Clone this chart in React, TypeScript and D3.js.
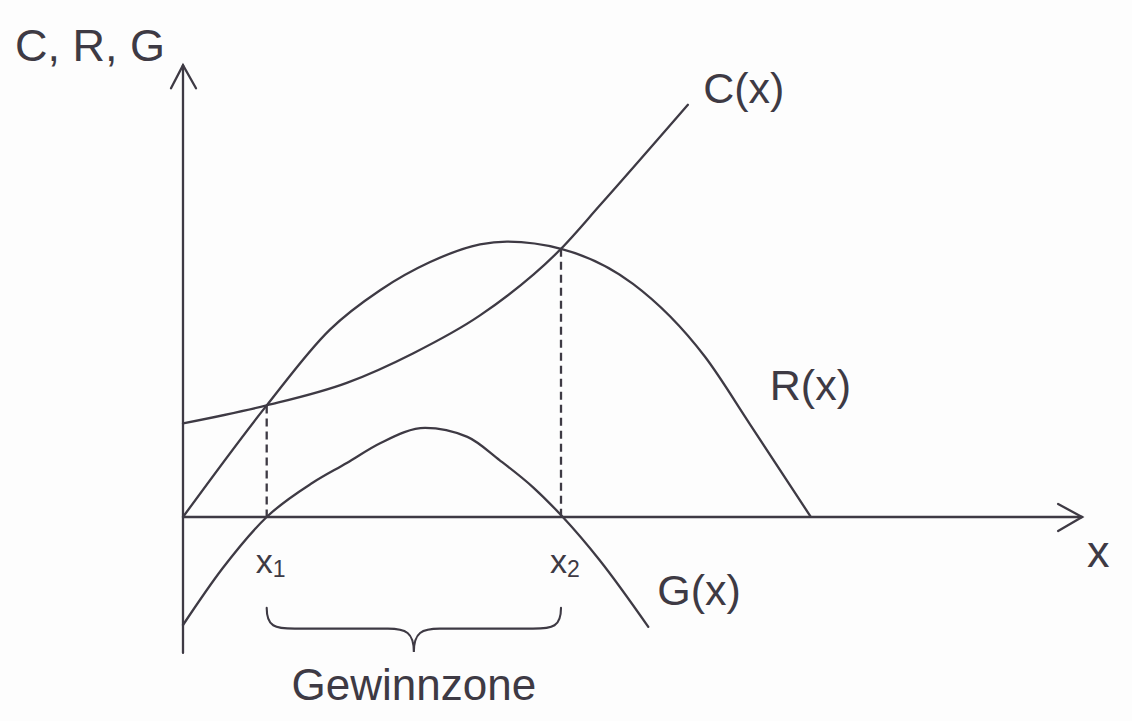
import * as d3 from "d3";
import { useEffect } from "react";

// values (units: 1 unit ≈ 9px on both axes)
const costX = [0, 9.3, 18.2, 25.6, 33.0, 42.0, 46.3, 56.1];
const costY = [10.4, 12.4, 14.9, 18.2, 22.4, 29.8, 34.6, 45.8];

const revenueX = [0, 9.3, 16.3, 21.9, 27.4, 33.0, 36.0, 42.0, 50.0, 58.0, 63.0, 69.7];
const revenueY = [0, 12.4, 20.8, 25.2, 28.3, 30.3, 30.6, 29.8, 25.9, 17.8, 10.3, 0.1];

const profitX = [0, 4.4, 9.3, 14.4, 18.2, 21.9, 26.9, 31.6, 35.2, 38.9, 42.2, 46.3, 51.7];
const profitY = [-12.0, -5.7, 0, 3.8, 6.0, 8.2, 9.9, 8.9, 6.3, 3.3, 0, -4.8, -12.2];

// break-even points
const breakEven = [
  { x: 9.3, y: 12.4, label: "1" },
  { x: 42.0, y: 29.8, label: "2" },
];

const curveLabels = [
  { text: "C(x)", x: 57.8, y: 46.0 },
  { text: "R(x)", x: 65.2, y: 13.0 },
  { text: "G(x)", x: 52.7, y: -9.8 },
];

const ink = "#3e3a44";
const font = "'Liberation Sans', Arial, Helvetica, sans-serif";

export default function App() {
  useEffect(() => {
    document.body.style.margin = "0";
    document.body.style.background = "#fdfdfd";
  }, []);

  const width = 1132;
  const height = 721;

  const x = d3.scaleLinear().domain([0, 100]).range([183, 1083]);
  const y = d3.scaleLinear().domain([0, 50]).range([517, 67]);

  const line = d3
    .line<[number, number]>()
    .x((d) => x(d[0]))
    .y((d) => y(d[1]))
    .curve(d3.curveMonotoneX);

  const pts = (xs: number[], ys: number[]) =>
    xs.map((v, i) => [v, ys[i]] as [number, number]);

  const x0 = x(0);
  const y0 = y(0);
  const yTop = y(50.2);
  const yBottom = y(-15.1);
  const xEnd = x(99.9);

  // brace under the profit zone
  const bl = x(breakEven[0].x);
  const br = x(breakEven[1].x);
  const bc = (bl + br) / 2;
  const bTop = y(-10.1);
  const bMid = y(-12.4);
  const bTip = y(-15.0);
  const brace =
    `M${bl},${bTop} C${bl},${bMid - 2} ${bl + 8},${bMid} ${bl + 28},${bMid} ` +
    `L${bc - 26},${bMid} C${bc - 8},${bMid} ${bc},${bMid + 4} ${bc},${bTip} ` +
    `C${bc},${bMid + 4} ${bc + 8},${bMid} ${bc + 26},${bMid} ` +
    `L${br - 28},${bMid} C${br - 8},${bMid} ${br},${bMid - 2} ${br},${bTop}`;

  return (
    <svg
      width={width}
      height={height}
      style={{ display: "block", background: "#fdfdfd" }}
    >
      <g fill="none" stroke={ink} strokeWidth={2.3} strokeLinecap="round">
        {/* axes */}
        <line x1={x0} y1={yBottom} x2={x0} y2={yTop} />
        <path d={`M${x0 - 12},${yTop + 23} L${x0},${yTop} L${x0 + 13},${yTop + 23}`} strokeLinejoin="miter" />
        <line x1={x0} y1={y0} x2={xEnd} y2={y0} />
        <path d={`M${xEnd - 24},${y0 - 13} L${xEnd},${y0} L${xEnd - 24},${y0 + 14}`} strokeLinejoin="miter" />

        {/* curves */}
        <path d={line(pts(costX, costY)) ?? ""} />
        <path d={line(pts(revenueX, revenueY)) ?? ""} />
        <path d={line(pts(profitX, profitY)) ?? ""} />

        {/* dashed drop lines at x1, x2 */}
        {breakEven.map((b) => (
          <line
            key={b.label}
            x1={x(b.x)}
            y1={y(b.y)}
            x2={x(b.x)}
            y2={y0}
            strokeDasharray="8 5"
            strokeLinecap="butt"
          />
        ))}

        <path d={brace} strokeWidth={2.1} />
      </g>

      <g fill={ink} fontFamily={font}>
        <text x={15} y={61} fontSize={45}>
          C, R, G
        </text>
        <text x={1087} y={567} fontSize={45}>
          x
        </text>
        {curveLabels.map((l) => (
          <text key={l.text} x={x(l.x)} y={y(l.y)} fontSize={43}>
            {l.text}
          </text>
        ))}
        {breakEven.map((b) => (
          <text key={b.label} x={x(b.x) - 11} y={573} fontSize={34}>
            x
            <tspan fontSize={23} dy={4}>
              {b.label}
            </tspan>
          </text>
        ))}
        <text x={bc} y={700} fontSize={44} textAnchor="middle">
          Gewinnzone
        </text>
      </g>
    </svg>
  );
}
